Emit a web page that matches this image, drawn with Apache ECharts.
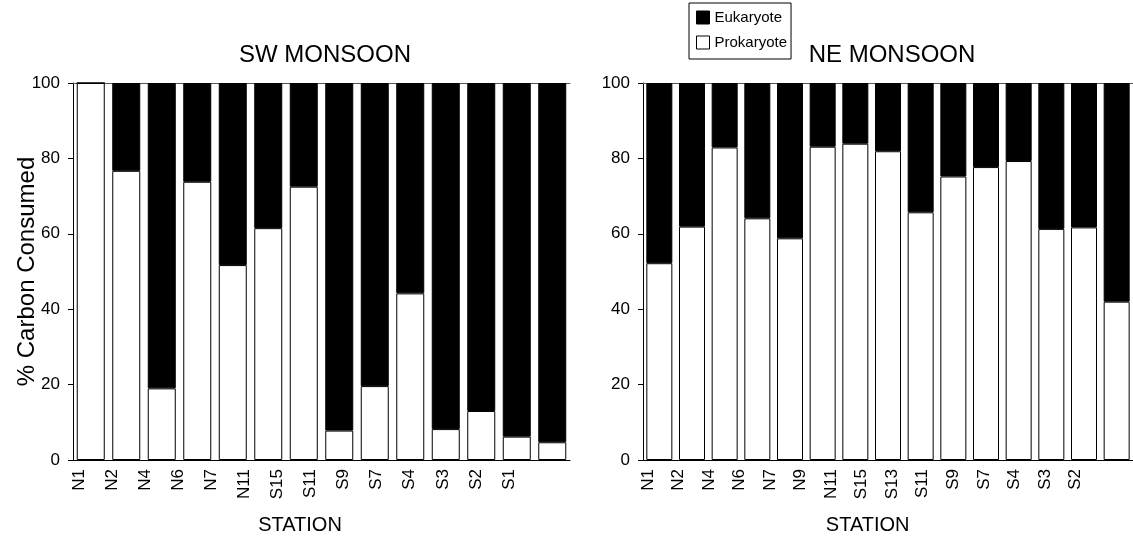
<!DOCTYPE html>
<html><head><meta charset="utf-8">
<script src="https://cdn.jsdelivr.net/npm/echarts@6/dist/echarts.min.js"></script>
<style>html,body{margin:0;padding:0;background:#fff}#c{width:1133px;height:540px}</style>
</head><body><div id="c"></div>
<script>
const swStations = ['N1','N2','N4','N6','N7','N11','S15','S11','S9','S7','S4','S3','S2','S1'];
const swProkaryote = [100, 76.7, 19.0, 73.8, 51.7, 61.5, 72.5, 7.8, 19.6, 44.2, 8.2, 13.0, 6.2, 4.7];
const swEukaryote  = [0, 23.3, 81.0, 26.2, 48.3, 38.5, 27.5, 92.2, 80.4, 55.8, 91.8, 87.0, 93.8, 95.3];
const neStations = ['N1','N2','N4','N6','N7','N9','N11','S15','S13','S11','S9','S7','S4','S3','S2'];
const neProkaryote = [52.2, 61.9, 82.9, 64.1, 58.8, 83.1, 83.9, 81.9, 65.7, 75.2, 77.7, 79.3, 61.3, 61.7, 42.0];
const neEukaryote  = [47.8, 38.1, 17.1, 35.9, 41.2, 16.9, 16.1, 18.1, 34.3, 24.8, 22.3, 20.7, 38.7, 38.3, 58.0];
const yTicks = [0, 20, 40, 60, 80, 100];

const FONT = 'Liberation Sans, Arial, sans-serif';
const chart = echarts.init(document.getElementById('c'));

function xBars(idx, data, pos){
  return {type:'category', gridIndex:idx, data:data, position:pos,
    axisLine:{lineStyle:{color: pos==='top' ? '#555' : '#000', width:1}},
    axisTick:{inside:true, length:6, lineStyle:{color:'#000'}},
    axisLabel:{show:false}};
}
function xLabels(idx, data){
  return {type:'category', gridIndex:idx, data:data, position:'bottom',
    name:'STATION', nameLocation:'middle', nameGap:64, nameMoveOverlap:false,
    nameTextStyle:{fontFamily:FONT, fontSize:20, color:'#000', padding:[0,0,0,12]},
    axisLine:{show:false}, axisTick:{show:false},
    axisLabel:{rotate:90, fontFamily:FONT, fontSize:17, color:'#000', margin:18}};
}
function yAx(idx, withName){
  const a = {type:'value', gridIndex:idx, min:yTicks[0], max:yTicks[yTicks.length-1], interval:20,
    axisLine:{show:true, lineStyle:{color:'#000', width:1}},
    axisTick:{show:true, length:5, lineStyle:{color:'#000'}},
    splitLine:{show:false},
    axisLabel:{fontFamily:FONT, fontSize:17, color:'#000', margin:13}};
  if(withName){
    a.name='% Carbon Consumed'; a.nameLocation='middle'; a.nameGap=34; a.nameMoveOverlap=false;
    a.nameTextStyle={fontFamily:FONT, fontSize:24, color:'#000'};
  }
  return a;
}
function yHidden(idx){
  return {type:'value', gridIndex:idx, min:0, max:100, show:false};
}
function bars(name, xi, data, color, bw){
  return {name:name, type:'bar', stack:'s'+xi, xAxisIndex:xi, yAxisIndex:xi, data:data,
    barWidth:bw, itemStyle:{color:color, borderColor:'#000', borderWidth:1},
    emphasis:{disabled:true}, animation:false};
}

chart.setOption({
  animation:false,
  backgroundColor:'#fff',
  title:[
    {text:'SW MONSOON', left:320, top:38, textAlign:'center',
     textStyle:{fontFamily:FONT, fontSize:24, fontWeight:'normal', color:'#000'}},
    {text:'NE MONSOON', left:887, top:38, textAlign:'center',
     textStyle:{fontFamily:FONT, fontSize:24, fontWeight:'normal', color:'#000'}}
  ],
  legend:{left:689, top:3, orient:'vertical', itemWidth:13, itemHeight:13, itemGap:10,
    padding:[7,4,9,7], borderColor:'#000', borderWidth:1, selectedMode:false,
    textStyle:{fontFamily:FONT, fontSize:15, color:'#000'},
    data:[
      {name:'Eukaryote', icon:'rect', itemStyle:{color:'#000', borderColor:'#000', borderWidth:1}},
      {name:'Prokaryote', icon:'rect', itemStyle:{color:'#fff', borderColor:'#000', borderWidth:1}}
    ]},
  grid:[
    {left:73, top:83, width:497, height:377},
    {left:643, top:83, width:490, height:377},
    {left:62.5, top:83, width:463, height:377},
    {left:632.7, top:83, width:458, height:377}
  ],
  xAxis:[xBars(0, swStations, 'bottom'), xBars(1, neStations, 'bottom'),
         xBars(0, swStations, 'top'), xBars(1, neStations, 'top'),
         xLabels(2, swStations), xLabels(3, neStations)],
  yAxis:[yAx(0, true), yAx(1, false), yHidden(2), yHidden(3)],
  series:[
    bars('Prokaryote', 0, swProkaryote, '#fff', 28),
    bars('Eukaryote', 0, swEukaryote, '#000', 28),
    bars('Prokaryote', 1, neProkaryote, '#fff', 26),
    bars('Eukaryote', 1, neEukaryote, '#000', 26)
  ]
});
</script></body></html>
